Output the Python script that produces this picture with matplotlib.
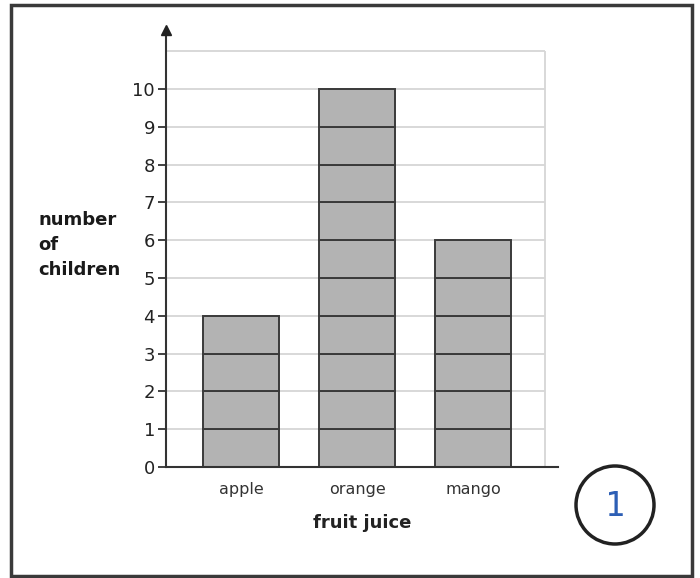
import matplotlib
matplotlib.use("Agg")
import matplotlib.pyplot as plt
from matplotlib.patches import Ellipse, Rectangle

juices = ["apple", "orange", "mango"]
children = [4, 10, 6]
y_ticks = list(range(0, 11))
grid_levels = list(range(1, 12))

W, H = 700, 578
plt.rcParams["font.family"] = ["DejaVu Sans"]

fig = plt.figure(figsize=(W / 100, H / 100), dpi=100)

# axes box in pixel terms: x 166..558, y 467 (zero) .. 30 (arrow tip)
ax = fig.add_axes([166 / W, 1 - 467 / H, (558 - 166) / W, (467 - 30) / H])
ax.set_xlim(-0.647, 2.733)
ax.set_ylim(0, 11.56)
grid_right = 2.621

for lvl in grid_levels:
    ax.hlines(lvl, -0.647, grid_right, color="#d6d6d6", lw=1.3, zorder=0)
ax.vlines(grid_right, 0, grid_levels[-1], color="#d6d6d6", lw=1.3, zorder=0)

for i, n in enumerate(children):
    for k in range(n):
        ax.bar(i, 1, bottom=k, width=0.655, color="#b3b3b3",
               edgecolor="#3a3a3a", linewidth=1.4, zorder=2)

for side in ("top", "right"):
    ax.spines[side].set_visible(False)
for side in ("left", "bottom"):
    ax.spines[side].set_color("#333333")
    ax.spines[side].set_linewidth(1.5)

ax.plot(0, 1, marker="^", color="#222222", markersize=7,
        transform=ax.transAxes, clip_on=False, zorder=5)

ax.set_yticks(y_ticks)
ax.set_yticklabels([str(v) for v in y_ticks], fontsize=13, color="#222222")
ax.tick_params(axis="y", length=6, width=1.3, color="#333333", pad=2)
ax.set_xticks(range(len(juices)))
ax.set_xticklabels(juices, fontsize=11.5, color="#333333")
ax.tick_params(axis="x", length=0, pad=11)

ax.set_xlabel("fruit juice", fontsize=13, fontweight="bold", color="#222222",
              labelpad=12)
fig.text(38 / W, 1 - 245 / H, "number\nof\nchildren", fontsize=13,
         fontweight="bold", color="#1a1a1a", ha="left", va="center",
         linespacing=1.5)

# page border and the circled question number
fig.add_artist(Rectangle((11 / W, 1 - 576 / H), (692 - 11) / W, (576 - 5) / H,
                         transform=fig.transFigure, fill=False,
                         edgecolor="#3a3a3a", lw=2.5))
fig.add_artist(Ellipse((615 / W, 1 - 505 / H), 78 / W, 78 / H,
                       transform=fig.transFigure, fill=False,
                       edgecolor="#222222", lw=2.5))
fig.text(615 / W, 1 - 506 / H, "1", fontsize=24, color="#2d5fb5",
         family="DejaVu Sans Mono", ha="center", va="center")

fig.savefig("out.png", dpi=100)
